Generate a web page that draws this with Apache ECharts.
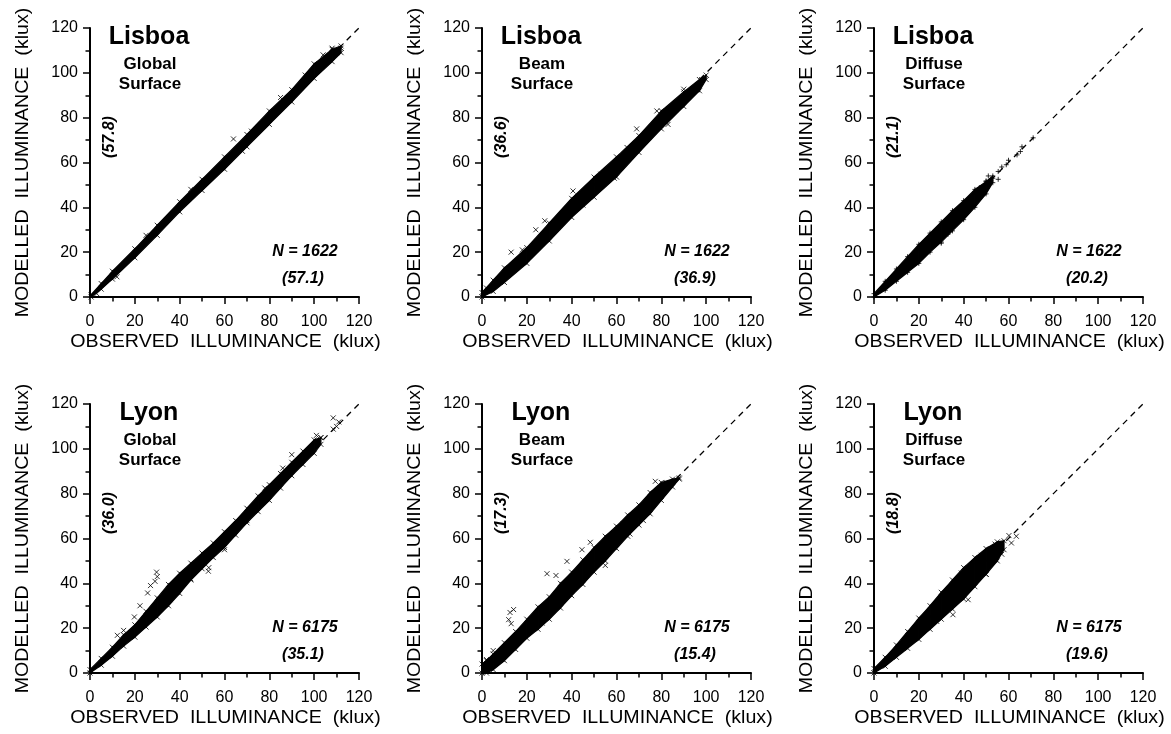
<!DOCTYPE html>
<html>
<head>
<meta charset="utf-8">
<script src="https://cdn.jsdelivr.net/npm/echarts@6/dist/echarts.min.js"></script>
<style>
  html, body { margin: 0; padding: 0; background: #ffffff; }
  #chart { width: 1171px; height: 734px; }
</style>
</head>
<body>
<div id="chart"></div>
<script>
// Shared axis scale (klux) and the 1:1 reference line
const axisTicks = [0, 20, 40, 60, 80, 100, 120];
const identityLine = [[0, 0], [120, 120]];

// Panel annotations
const sites = ['Lisboa', 'Lisboa', 'Lisboa', 'Lyon', 'Lyon', 'Lyon'];
const surfaces = ['Global', 'Beam', 'Diffuse', 'Global', 'Beam', 'Diffuse'];
const sampleSizes = [1622, 1622, 1622, 6175, 6175, 6175];
const meanModelled = ['57.8', '36.6', '21.1', '36.0', '17.3', '18.8'];
const meanObserved = ['57.1', '36.9', '20.2', '35.1', '15.4', '19.6'];

// Dense part of each cloud: observed value with lowest / highest modelled value
const lisboaGlobalObs  = [0.5, 5, 10, 20, 30, 40, 50, 60, 70, 80, 90, 100, 108, 112];
const lisboaGlobalLow  = [0, 3.5, 8, 17.5, 27.5, 38, 47.5, 57, 67, 77, 87, 97.5, 105, 109];
const lisboaGlobalHigh = [1, 6, 11.5, 21.5, 32, 42.5, 52.5, 62.5, 72.5, 83, 92.5, 104, 110.5, 112];

const lisboaBeamObs  = [0, 5, 10, 20, 30, 40, 50, 60, 70, 80, 90, 97, 100];
const lisboaBeamLow  = [0, 2.5, 6.5, 15, 25, 35.5, 44.5, 53.5, 64.5, 75, 85, 92, 97];
const lisboaBeamHigh = [2, 7.5, 13, 22, 33, 44, 53.5, 62.5, 72, 83, 91.5, 97, 99];

const lisboaDiffuseObs  = [0, 5, 10, 15, 20, 25, 30, 35, 40, 45, 50, 53];
const lisboaDiffuseLow  = [0, 3, 7, 11, 15, 20, 24.5, 29.5, 34.5, 40, 46, 51];
const lisboaDiffuseHigh = [1.5, 7, 12.5, 18, 23.5, 28.5, 33.5, 38.5, 43, 48, 51.5, 54];

const lyonGlobalObs  = [0, 5, 10, 15, 20, 25, 30, 35, 40, 45, 50, 55, 60, 65, 70, 75, 80, 85, 90, 95, 100, 103];
const lyonGlobalLow  = [0, 3.5, 7.5, 12, 16, 20.5, 25, 30, 35.5, 41.5, 46.5, 51.5, 56, 61.5, 67, 72, 77, 82.5, 88, 93, 98, 102];
const lyonGlobalHigh = [1.5, 6.5, 11.5, 17, 21.5, 27.5, 33.5, 39.5, 44.5, 49, 53.5, 58, 63, 68, 73.5, 79, 84, 89, 94, 99, 104, 105];

const lyonBeamObs  = [0, 2, 5, 10, 15, 20, 25, 30, 35, 40, 45, 50, 55, 60, 65, 70, 75, 80, 85, 88];
const lyonBeamLow  = [0, 0, 1.5, 5.5, 10.5, 15.5, 19.5, 24, 29, 34.5, 39.5, 45, 50, 55.5, 61, 66, 71, 77, 83, 86.5];
const lyonBeamHigh = [4, 5.5, 8.5, 13.5, 18.5, 24, 29.5, 34, 40, 45, 50.5, 56, 61, 65.5, 70.5, 75, 80.5, 85, 86.5, 87];

const lyonDiffuseObs  = [0, 5, 10, 15, 20, 25, 30, 35, 40, 45, 50, 55, 58];
const lyonDiffuseLow  = [0, 3, 7, 11, 15, 19.5, 24, 28.5, 33, 38.5, 44, 50, 55];
const lyonDiffuseHigh = [2, 7, 12.5, 18.5, 24.5, 30, 36, 41.5, 47, 51.5, 55.5, 58.5, 59];

// Scattered points lying off the dense part [observed, modelled]
const lisboaGlobalStray = [[3, 1.5], [12, 9], [25, 27.5], [45, 48], [64, 70.5], [68, 65], [72, 74], [85, 89],
  [96, 99], [104, 108], [108, 111], [110, 109], [112, 111]];
const lisboaBeamStray = [[2, 4], [13, 20], [18, 21], [24, 30], [28, 34], [35, 33], [40.6, 47.3], [45, 41],
  [53, 54.8], [59, 53], [64.7, 66.7], [69, 75], [71, 68], [78, 83], [83, 77], [90, 92.7], [98, 97]];
const lisboaDiffuseStray = [[30, 24], [33, 28], [45, 47], [47, 48.8], [48, 45], [50, 51.8], [51, 54], [53, 53],
  [55.4, 56], [55.4, 52.5], [57, 58], [59, 59], [60, 61], [63.8, 63.4], [65.3, 64.9], [66, 67], [71, 71]];
const lyonGlobalStray = [[12.2, 16.8], [15, 19], [19.8, 25], [22.3, 30], [25.7, 35.7], [27, 39], [29, 40.9],
  [29.7, 45], [30, 43], [35.7, 32.7], [45, 42], [52.8, 45.4], [53, 47], [60, 55], [70, 68], [78, 82.5],
  [86, 91.4], [90, 97.4], [101, 106], [103, 105], [108.5, 113.8], [108.5, 108.8], [110, 110], [111, 112]];
const lyonBeamStray = [[2, 6], [5, 10], [11.9, 23.8], [12.5, 27], [13, 22], [14.1, 28.3], [23.5, 22.3],
  [26.8, 22.3], [29, 44.3], [30, 27], [33, 43.5], [37.9, 49.8], [44.6, 55], [48.3, 58.3], [55, 48],
  [60.2, 64], [63, 66.5], [66, 62], [72, 68], [77.3, 85.5], [80, 82], [82.5, 84.8], [85, 85]];
const lyonDiffuseStray = [[28, 23], [35.2, 26], [39, 44.6], [42, 32.7], [46, 50], [48, 52.5], [50, 44],
  [54, 57.5], [57, 53], [60.2, 61.3], [61.3, 58], [63.5, 61]];

const panels = [
  { obs: lisboaGlobalObs, low: lisboaGlobalLow, high: lisboaGlobalHigh, stray: lisboaGlobalStray, mark: 'x' },
  { obs: lisboaBeamObs, low: lisboaBeamLow, high: lisboaBeamHigh, stray: lisboaBeamStray, mark: 'x' },
  { obs: lisboaDiffuseObs, low: lisboaDiffuseLow, high: lisboaDiffuseHigh, stray: lisboaDiffuseStray, mark: '+' },
  { obs: lyonGlobalObs, low: lyonGlobalLow, high: lyonGlobalHigh, stray: lyonGlobalStray, mark: 'x' },
  { obs: lyonBeamObs, low: lyonBeamLow, high: lyonBeamHigh, stray: lyonBeamStray, mark: 'x' },
  { obs: lyonDiffuseObs, low: lyonDiffuseLow, high: lyonDiffuseHigh, stray: lyonDiffuseStray, mark: 'x' }
];

// Layout
const colLeft = [90, 482, 874];
const rowTop = [28, 404];
const plotSize = 269;
const textFont = '"Liberation Sans", Arial, sans-serif';

const crossPath = 'path://M0,0L10,10M10,0L0,10';
const plusPath = 'path://M5,0L5,10M0,5L10,5';

const chart = echarts.init(document.getElementById('chart'), null, { renderer: 'canvas' });

const grids = [], xAxes = [], yAxes = [], series = [], graphics = [];

function axisBase(gridIndex) {
  return {
    gridIndex: gridIndex,
    type: 'value',
    min: axisTicks[0],
    max: axisTicks[axisTicks.length - 1],
    interval: axisTicks[1] - axisTicks[0],
    splitLine: { show: false },
    axisLine: { onZero: false, lineStyle: { color: '#000', width: 2 } },
    axisTick: { inside: false, length: 7, lineStyle: { color: '#000', width: 1.5 } },
    minorTick: { show: true, splitNumber: 2, length: 4.5, lineStyle: { color: '#000', width: 1.5 } },
    axisLabel: { color: '#000', fontSize: 16, fontFamily: textFont, showMinLabel: true, showMaxLabel: true }
  };
}

panels.forEach(function (p, i) {
  const left = colLeft[i % 3];
  const top = rowTop[Math.floor(i / 3)];
  grids.push({ left: left, top: top, width: plotSize, height: plotSize, containLabel: false });

  const xa = axisBase(i);
  xa.axisLabel.margin = 17;
  xAxes.push(xa);
  const ya = axisBase(i);
  ya.axisLabel.margin = 12;
  yAxes.push(ya);

  // 1:1 line
  series.push({
    type: 'line', xAxisIndex: i, yAxisIndex: i, data: identityLine, symbol: 'none', silent: true, z: 1,
    lineStyle: { color: '#000', width: 1.3, type: [6, 5] }
  });

  // dense cloud drawn as strips between consecutive observed values
  const strips = [];
  for (let k = 0; k < p.obs.length - 1; k++) {
    strips.push([p.obs[k], p.low[k], p.high[k], p.obs[k + 1], p.low[k + 1], p.high[k + 1]]);
  }
  series.push({
    type: 'custom', xAxisIndex: i, yAxisIndex: i, data: strips, silent: true, z: 2, clip: true,
    encode: { x: [0, 3], y: [1, 2, 4, 5] },
    renderItem: function (params, api) {
      const a = api.coord([api.value(0), api.value(2)]);
      const b = api.coord([api.value(3), api.value(5)]);
      const c = api.coord([api.value(3), api.value(4)]);
      const d = api.coord([api.value(0), api.value(1)]);
      return {
        type: 'polygon',
        shape: { points: [a, b, c, d] },
        style: { fill: '#000', stroke: '#000', lineWidth: 1.2 }
      };
    }
  });

  // ragged edge of the cloud and the stray points
  const edgePoints = [];
  p.obs.forEach(function (x, k) {
    edgePoints.push([x, p.low[k]]);
    edgePoints.push([x, p.high[k]]);
  });
  series.push({
    type: 'scatter', xAxisIndex: i, yAxisIndex: i, silent: true, z: 3,
    data: edgePoints.concat(p.stray),
    symbol: p.mark === '+' ? plusPath : crossPath,
    symbolSize: 5,
    itemStyle: { color: 'rgba(0,0,0,0)', borderColor: '#000', borderWidth: 1 }
  });

  // text annotations
  const cx = left;
  graphics.push({
    type: 'text', x: cx + 59, y: top + 9,
    style: { text: sites[i], font: 'bold 25px ' + textFont, fill: '#000', align: 'center', verticalAlign: 'middle' }
  });
  graphics.push({
    type: 'text', x: cx + 60, y: top + 36,
    style: { text: surfaces[i], font: 'bold 17px ' + textFont, fill: '#000', align: 'center', verticalAlign: 'middle' }
  });
  graphics.push({
    type: 'text', x: cx + 60, y: top + 56,
    style: { text: 'Surface', font: 'bold 17px ' + textFont, fill: '#000', align: 'center', verticalAlign: 'middle' }
  });
  graphics.push({
    type: 'text', x: cx + 20, y: top + 109, rotation: Math.PI / 2,
    style: { text: '(' + meanModelled[i] + ')', font: 'italic bold 16px ' + textFont, fill: '#000', align: 'center', verticalAlign: 'middle' }
  });
  graphics.push({
    type: 'text', x: cx + 215, y: top + 224,
    style: { text: 'N = ' + sampleSizes[i], font: 'italic bold 16px ' + textFont, fill: '#000', align: 'center', verticalAlign: 'middle' }
  });
  graphics.push({
    type: 'text', x: cx + 213, y: top + 251,
    style: { text: '(' + meanObserved[i] + ')', font: 'italic bold 16px ' + textFont, fill: '#000', align: 'center', verticalAlign: 'middle' }
  });
  // axis titles
  graphics.push({
    type: 'text', x: cx - 67, y: top + plotSize / 2, rotation: Math.PI / 2, scaleX: 1.09,
    style: { text: 'MODELLED  ILLUMINANCE  (klux)', font: '18px ' + textFont, fill: '#000', align: 'center', verticalAlign: 'middle' }
  });
  graphics.push({
    type: 'text', x: cx + plotSize / 2 + 1, y: top + plotSize + 45, scaleX: 1.09,
    style: { text: 'OBSERVED  ILLUMINANCE  (klux)', font: '18px ' + textFont, fill: '#000', align: 'center', verticalAlign: 'middle' }
  });
});

chart.setOption({
  animation: false,
  backgroundColor: '#ffffff',
  grid: grids,
  xAxis: xAxes,
  yAxis: yAxes,
  series: series,
  graphic: { elements: graphics }
});
</script>
</body>
</html>
